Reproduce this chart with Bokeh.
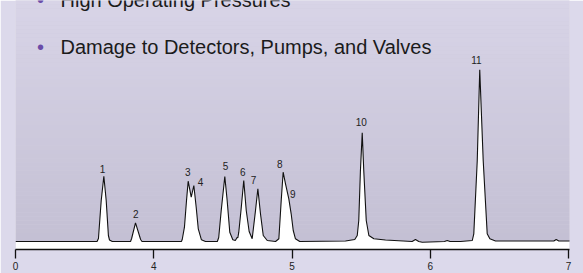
from bokeh.plotting import figure
from bokeh.models import Range1d, Label, ColumnDataSource, FixedTicker
from bokeh.core.properties import value
from bokeh.embed import file_html
from bokeh.resources import INLINE

# ---- data ----
# chromatogram trace: retention time (min) and detector signal (arbitrary units)
trace_time = [3.000, 3.590, 3.600, 3.620, 3.639, 3.656, 3.672, 3.680, 3.700,
              3.832, 3.840, 3.868, 3.905, 3.915,
              4.200, 4.206, 4.222, 4.237, 4.249, 4.271, 4.290, 4.307, 4.322, 4.345, 4.374,
              4.460, 4.470, 4.488, 4.514, 4.531, 4.550, 4.572, 4.590, 4.604, 4.608, 4.615,
              4.631, 4.651, 4.669, 4.690, 4.712, 4.736, 4.753, 4.772, 4.792, 4.821, 4.881,
              4.905, 4.922, 4.936, 4.953, 4.977, 4.994, 5.009, 5.025, 5.056,
              5.387, 5.454, 5.472, 5.483, 5.495, 5.508, 5.519, 5.537, 5.556, 5.592, 5.676,
              5.869, 5.893, 5.917, 5.942, 6.103, 6.123, 6.143, 6.219,
              6.304, 6.315, 6.340, 6.358, 6.383, 6.412, 6.431, 6.472,
              6.894, 6.911, 6.930, 7.015]
trace_signal = [0.0, 0.0, 3.0, 41.0, 65.3, 41.0, 6.0, 1.5, 0.0,
                0.0, 3.0, 18.7, 2.0, 0.0,
                0.0, 2.0, 14.3, 41.0, 60.3, 44.3, 56.0, 34.3, 12.7, 1.7, 0.0,
                0.0, 4.0, 31.0, 65.0, 41.0, 9.3, 1.7, 1.0, 4.3, 3.5, 9.3,
                31.0, 61.0, 31.0, 10.0, 2.7, 31.0, 52.7, 27.7, 6.0, 1.0, 0.0,
                2.7, 41.0, 69.3, 57.7, 42.7, 27.7, 11.0, 2.7, 0.0,
                0.5, 2.0, 6.0, 21.0, 71.0, 108.7, 71.0, 21.0, 6.0, 2.7, 1.5,
                0.0, 2.0, 0.0, -0.7, 0.0, 1.0, 0.0, 0.0,
                1.0, 7.7, 81.0, 171.7, 81.0, 7.7, 2.7, 0.5,
                0.5, 2.0, 0.5, 0.5]

peak_ids = ["1", "2", "3", "4", "5", "6", "7", "8", "9", "10", "11"]
peak_time = [3.639, 3.868, 4.249, 4.290, 4.514, 4.651, 4.753, 4.936, 4.977, 5.508, 6.358]
peak_height = [65.3, 18.7, 60.3, 56.0, 65.0, 61.0, 52.7, 69.3, 42.7, 108.7, 171.7]

tick_positions = [3, 4, 5, 6, 7]
tick_labels = ["0", "4", "5", "6", "7"]
axis_unit = "min"

bullet_lines = ["High Operating Pressures", "Damage to Detectors, Pumps, and Valves"]

# ---- styling / layout ----
W, H = 583, 273
LEFT, RIGHT, TOP, BOTTOM = 15, 14, 0, 24
X0_PX, PX_PER_MIN, BASE_PX = 15, 138.25, 241
FRAME_W = W - LEFT - RIGHT
FRAME_H = H - TOP - BOTTOM

def px2x(px):
    return 3 + (px - X0_PX) / PX_PER_MIN

def py2y(py):
    return BASE_PX - py

OUTER = "#dcd9eb"
GRAD_TOP = (0xd8, 0xd4, 0xe7)
GRAD_BOT = (0xc3, 0xbf, 0xd3)
BULLET = "#6a4ca8"
FONT = "Liberation Sans"

x_start, x_end = 3, 3 + FRAME_W / PX_PER_MIN
y_start, y_end = py2y(TOP + FRAME_H), py2y(TOP)

p = figure(width=W, height=H, output_backend="svg", toolbar_location=None,
           x_range=Range1d(x_start, x_end), y_range=Range1d(y_start, y_end),
           y_axis_location=None, min_border_left=LEFT, min_border_right=RIGHT,
           min_border_top=TOP, min_border_bottom=BOTTOM)
p.border_fill_color = OUTER
p.background_fill_color = "#cecadd"
p.outline_line_color = None
p.grid.visible = False

# gradient panel
n = 60
bands_b, bands_t, bands_c = [], [], []
for i in range(n):
    f = (i + 0.5) / n
    c = tuple(round(GRAD_BOT[k] + (GRAD_TOP[k] - GRAD_BOT[k]) * f) for k in range(3))
    bands_b.append(y_start + (y_end - y_start) * i / n)
    bands_t.append(y_start + (y_end - y_start) * (i + 1) / n + 0.01)
    bands_c.append("#%02x%02x%02x" % c)
p.quad(left=x_start, right=x_end + 0.1, bottom=bands_b, top=bands_t, fill_color=bands_c,
       line_color=None)

# white area under the trace
patch_x = trace_time + [trace_time[-1], trace_time[0]]
patch_y = trace_signal + [y_start, y_start]
p.patch(patch_x, patch_y, fill_color="white", line_color=None)
p.line(trace_time, trace_signal, line_color="#111111", line_width=1.1)

# peak labels
dx = [-1.3, 0.3, -0.4, 6.7, 0.7, -1.0, -4.3, -3.4, 4.0, -1.0, -3.3]
dy = [-7.7, -9.3, -9.0, -3.3, -11.0, -8.3, -9.0, -8.4, -5.0, -10.6, -10.3]
src = ColumnDataSource(dict(x=peak_time, y=peak_height, t=peak_ids, dx=dx, dy=dy))
p.text(x="x", y="y", text="t", source=src, x_offset="dx", y_offset="dy",
       text_align="center", text_baseline="middle", text_font=value(FONT),
       text_font_size="10px", text_color="#222222")

# axis
ax = p.xaxis[0]
ax.ticker = FixedTicker(ticks=tick_positions)
ax.major_label_overrides = {t: l for t, l in zip(tick_positions, tick_labels)}
ax.minor_tick_line_color = None
ax.major_tick_in = 0
ax.major_tick_out = 9
ax.major_tick_line_width = 1.3
ax.axis_line_width = 1.5
ax.axis_line_color = "#111111"
ax.major_tick_line_color = "#111111"
ax.major_label_standoff = 3
ax.major_label_text_font = FONT
ax.major_label_text_font_size = "10px"
ax.major_label_text_color = "#222222"

p.add_layout(Label(x=px2x(572.5), y=py2y(263.5), text=axis_unit, text_font=FONT,
                   text_font_size="10px", text_color="#222222", text_baseline="alphabetic"))

# slide bullet text
for i, line in enumerate(bullet_lines):
    base = -1.0 + 47.5 * i
    p.add_layout(Label(x=px2x(40), y=py2y(base), text="•", text_align="center",
                       text_baseline="alphabetic", text_font=FONT, text_font_size="20px",
                       text_color=BULLET))
    p.add_layout(Label(x=px2x(60), y=py2y(base), text=line, text_baseline="alphabetic",
                       text_font=FONT, text_font_size="20px", text_color="#1b1b1b"))

html = file_html(p, INLINE)
html = html.replace("<body>", '<body style="margin:0;background:%s;">' % OUTER, 1)
open("out.html", "w").write(html)
